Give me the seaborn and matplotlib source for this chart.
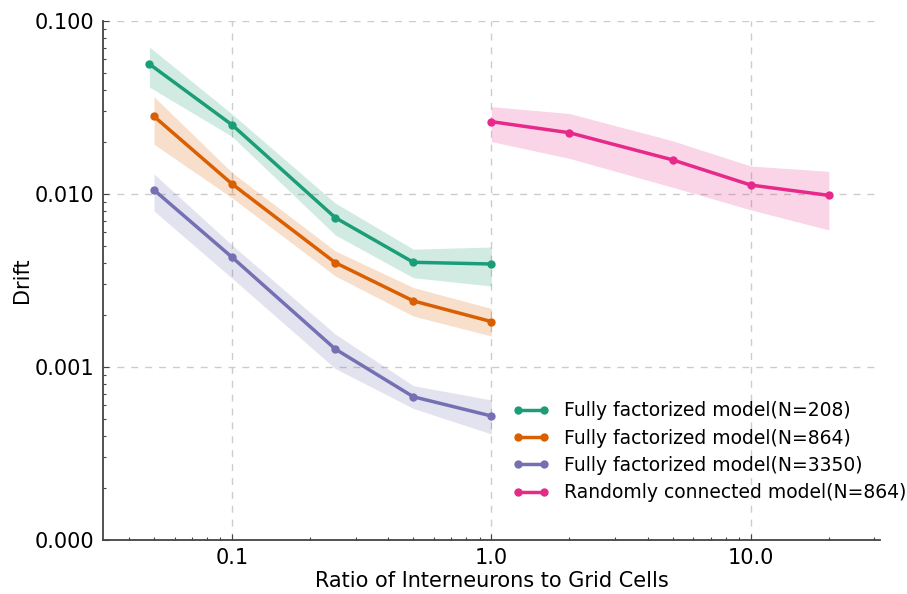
import numpy as np
import pandas as pd
import matplotlib
matplotlib.use("Agg")
import matplotlib.pyplot as plt
import seaborn as sns
from matplotlib.ticker import FormatStrFormatter
from matplotlib.lines import Line2D

# ---- data ----
labels = ["Fully factorized model(N=208)", "Fully factorized model(N=864)",
          "Fully factorized model(N=3350)", "Randomly connected model(N=864)"]
x_ff208 = [0.048, 0.1, 0.25, 0.5, 1.0]
x_ff = [0.05, 0.1, 0.25, 0.5, 1.0]
x_rand = [1.0, 2.0, 5.0, 10.0, 20.0]

ff208_mean = [0.0564, 0.0251, 0.0073, 0.00403, 0.00394]
ff208_low = [0.0415, 0.0215, 0.0058, 0.00328, 0.00294]
ff208_high = [0.0708, 0.0290, 0.00887, 0.0048, 0.00494]

ff864_mean = [0.0281, 0.01143, 0.00401, 0.00241, 0.00183]
ff864_low = [0.0194, 0.0095, 0.00336, 0.00197, 0.00151]
ff864_high = [0.0365, 0.0133, 0.00469, 0.00288, 0.00218]

ff3350_mean = [0.01055, 0.00431, 0.00127, 0.000673, 0.000521]
ff3350_low = [0.00798, 0.00326, 0.00098, 0.000576, 0.00041]
ff3350_high = [0.01305, 0.00507, 0.00155, 0.00078, 0.000645]

rand_mean = [0.0262, 0.0226, 0.01575, 0.01127, 0.00982]
rand_low = [0.0201, 0.01607, 0.01094, 0.0081, 0.0062]
rand_high = [0.0320, 0.0292, 0.0203, 0.01452, 0.01352]

xs = [x_ff208, x_ff, x_ff, x_rand]
means = [ff208_mean, ff864_mean, ff3350_mean, rand_mean]
lows = [ff208_low, ff864_low, ff3350_low, rand_low]
highs = [ff208_high, ff864_high, ff3350_high, rand_high]

colors = ["#1b9e77", "#d95f02", "#7570b3", "#e7298a"]

sns.set_style("white")
plt.rcParams['font.family'] = ['DejaVu Sans']
plt.rcParams['text.color'] = 'black'
plt.rcParams['axes.labelcolor'] = 'black'

fig = plt.figure(figsize=(9.07, 5.94), dpi=100)
ax = fig.add_axes([0.1136, 0.0909, 0.857, 0.8737])

rows = []
for lab, x, m in zip(labels, xs, means):
    for xi, mi in zip(x, m):
        rows.append({"model": lab, "ratio": xi, "drift": mi})
df = pd.DataFrame(rows)

for lab, x, lo, hi, c in zip(labels, xs, lows, highs, colors):
    ax.fill_between(x, lo, hi, color=c, alpha=0.2, linewidth=0)

sns.lineplot(data=df, x="ratio", y="drift", hue="model", hue_order=labels,
             palette=colors, marker="o", markersize=6, markeredgewidth=0,
             linewidth=2.5, ax=ax, legend=False, estimator=None, sort=True)

ax.set_xscale("log")
ax.set_yscale("log")
ax.set_xlim(0.0318, 31.6)
ax.set_ylim(0.0001, 0.1)
ax.set_xticks([0.1, 1.0, 10.0])
ax.set_yticks([0.0001, 0.001, 0.01, 0.1])
ax.xaxis.set_major_formatter(FormatStrFormatter("%.1f"))
ax.yaxis.set_major_formatter(FormatStrFormatter("%.3f"))

ax.grid(True, which="major", linestyle=(0, (5, 5)), color="#cccccc", linewidth=1)
ax.tick_params(which="both", direction="in", colors="#444444", labelcolor="black")
ax.tick_params(which="major", length=4, width=0.8, labelsize=15, pad=6)
ax.tick_params(which="minor", length=2, width=0.8)
ax.tick_params(axis="both", which="both", left=True, bottom=True)
for s in ["top", "right"]:
    ax.spines[s].set_visible(False)
for s in ["left", "bottom"]:
    ax.spines[s].set_color("#444444")
    ax.spines[s].set_linewidth(1.3)

ax.set_xlabel("Ratio of Interneurons to Grid Cells", fontsize=15, labelpad=2)
ax.set_ylabel("Drift", fontsize=15, labelpad=2)

handles = [Line2D([0], [0], color=c, linewidth=2.5, marker="o", markersize=6,
                  markeredgewidth=0) for c in colors]
ax.legend(handles, labels, loc="upper left", bbox_to_anchor=(0.505, 0.3),
          frameon=False, fontsize=13.5, numpoints=2, handlelength=2.0,
          handletextpad=0.75, labelspacing=0.45)

fig.savefig("out.png", dpi=100)
